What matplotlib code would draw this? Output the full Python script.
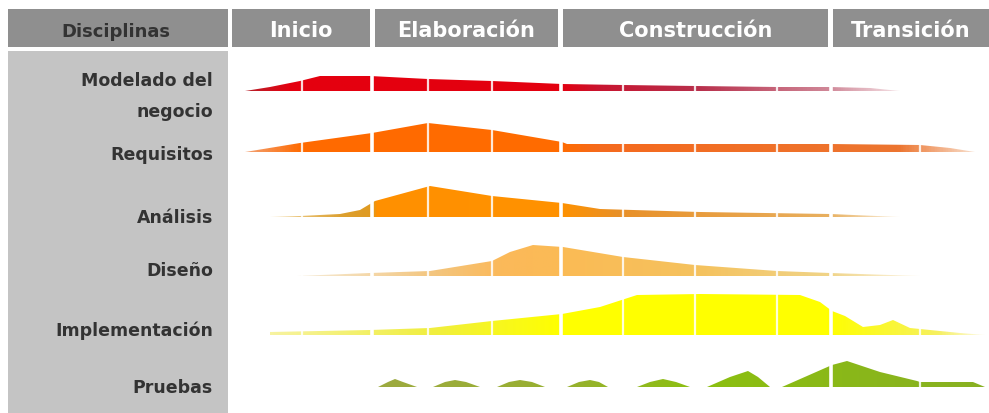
#!/usr/bin/env python
import numpy as np
import matplotlib
matplotlib.use("Agg")
import matplotlib.pyplot as plt
from matplotlib.patches import Rectangle, Polygon
from matplotlib.colors import LinearSegmentedColormap

# phases (header) and disciplines (rows)
phases = ["Inicio", "Elaboración", "Construcción", "Transición"]
disciplines = ["Modelado del\nnegocio", "Requisitos", "Análisis", "Diseño",
               "Implementación", "Pruebas"]

# effort curves: x = time position, h = effort height
modelado_x = [245, 270, 300, 320, 370, 428, 492, 562, 623, 695, 777, 830, 870, 900]
modelado_h = [0, 4, 10, 15, 15, 12, 10, 7, 6, 5, 4, 4, 3, 0]

requisitos_x = [245, 300, 372, 428, 492, 562, 567, 830, 920, 950, 975]
requisitos_h = [0, 9, 19, 29, 22, 10, 8, 8, 7, 4, 0]

analisis_x = [270, 300, 340, 360, 370, 375, 430, 492, 562, 600, 700, 830, 900]
analisis_h = [0, 1, 3, 7, 13, 16, 31, 21, 14, 8, 5, 3, 0]

diseno_x = [297, 370, 430, 492, 510, 533, 563, 623, 695, 777, 830, 920]
diseno_h = [0, 3, 5, 15, 24, 31, 29, 19, 11, 5, 3, 0]

implem_x = [270, 370, 430, 492, 562, 600, 637, 700, 800, 820, 832, 845, 863, 880,
            893, 910, 940, 960, 985]
implem_h = [3, 5, 7, 14, 21, 28, 40, 41, 40, 33, 24, 19, 8, 10, 15, 7, 4, 2, 0]

pruebas_x = [378, 388, 395, 403, 417, 433, 445, 455, 466, 480, 497, 509, 520, 532,
             545, 567, 579, 590, 599, 608, 637, 650, 663, 676, 690, 707, 730, 748,
             758, 770, 782, 832, 847, 880, 917, 920, 973, 985]
pruebas_h = [0, 5, 8, 5, 0, 0, 5, 7, 5, 0, 0, 5, 7, 5,
             0, 0, 5, 7, 5, 0, 0, 5, 8, 5, 0, 0, 10, 16,
             10, 0, 0, 22, 26, 15, 6, 5, 5, 0]

curves_x = [modelado_x, requisitos_x, analisis_x, diseno_x, implem_x, pruebas_x]
curves_h = [modelado_h, requisitos_h, analisis_h, diseno_h, implem_h, pruebas_h]

# layout (pixels)
W, H = 989, 414
baselines = [92, 153, 218, 277, 336, 388]
label_y = [[81, 112], [155], [218], [271], [331], [388]]
phase_spans = [(232, 370), (375, 558), (563, 828), (833, 989)]
iter_lines = [302, 428, 492, 623, 695, 777, 920]
phase_lines = [372, 561, 831]

# colour stops along time for each row
stops = [
    [(245, "#b8202a"), (290, "#e5000f"), (560, "#e3000f"), (600, "#c81530"),
     (700, "#b8304c"), (830, "#d08898"), (900, "#f4e0e4")],
    [(245, "#f3a070"), (300, "#ff6a00"), (560, "#ff6c00"), (600, "#f56a1e"),
     (900, "#ec7530"), (975, "#f8dcc8")],
    [(270, "#f3d9a0"), (340, "#dca030"), (372, "#e09a20"), (376, "#ff9000"),
     (560, "#ff9200"), (620, "#e89028"), (830, "#e8b060"), (900, "#fbf0dc")],
    [(297, "#f6ecd8"), (430, "#f3c680"), (500, "#fbb95a"), (565, "#fbbb55"),
     (700, "#f5c25e"), (830, "#f0d488"), (920, "#fdf6e4")],
    [(270, "#f7f3a0"), (430, "#f0ee40"), (560, "#ffff00"), (830, "#ffff00"),
     (940, "#f6f060"), (985, "#fefbe6")],
    [(378, "#9daa40"), (560, "#98b030"), (700, "#8cc010"), (985, "#88b022")],
]

fig = plt.figure(figsize=(W / 100, H / 100), dpi=100)
ax = fig.add_axes([0, 0, 1, 1])
ax.set_axis_off()

# header band
ax.add_patch(Rectangle((8, 10), 220, 38, facecolor="#8f8f8f", edgecolor="none"))
for name, (x0, x1) in zip(phases, phase_spans):
    ax.add_patch(Rectangle((x0, 10), x1 - x0, 38, facecolor="#8f8f8f", edgecolor="none"))
    ax.text((x0 + x1) / 2, 31, name, ha="center", va="center", color="white",
            fontsize=15, fontweight="bold")
ax.text(116, 32, "Disciplinas", ha="center", va="center", color="#333333",
        fontsize=13, fontweight="bold")

# left panel with discipline names
ax.add_patch(Rectangle((8, 52), 220, H - 52, facecolor="#c4c4c4", edgecolor="none"))
for name, ys in zip(disciplines, label_y):
    for line, y in zip(name.split("\n"), ys):
        ax.text(213, y, line, ha="right", va="center", color="#333333",
                fontsize=12.5, fontweight="bold")

# effort humps, coloured with a gradient clipped to the filled shape
grad = np.linspace(0, 1, 600).reshape(1, -1)
for xs, hs, base, st in zip(curves_x, curves_h, baselines, stops):
    xs = np.asarray(xs, float)
    hs = np.asarray(hs, float)
    verts = np.column_stack([np.r_[xs, xs[::-1]],
                             np.r_[base - hs, np.full(len(xs), base)]])
    poly = Polygon(verts, closed=True, facecolor="none", edgecolor="none")
    ax.add_patch(poly)
    x0, x1 = xs[0], xs[-1]
    pos = [min(max((sx - x0) / (x1 - x0), 0), 1) for sx, _ in st]
    pos[0], pos[-1] = 0.0, 1.0
    cmap = LinearSegmentedColormap.from_list("row", list(zip(pos, [c for _, c in st])))
    im = ax.imshow(grad, cmap=cmap, aspect="auto", interpolation="bilinear",
                   extent=(x0, x1, base + 0.5, base - hs.max() - 1), zorder=2)
    im.set_clip_path(poly)

# iteration separators
for x in iter_lines:
    ax.plot([x, x], [58, 400], color="white", lw=1.6, alpha=0.85, zorder=3)
for x in phase_lines:
    ax.plot([x, x], [58, 400], color="white", lw=2.6, zorder=3)

ax.set_xlim(0, W)
ax.set_ylim(H, 0)
fig.savefig("out.png", dpi=100, facecolor="white")
